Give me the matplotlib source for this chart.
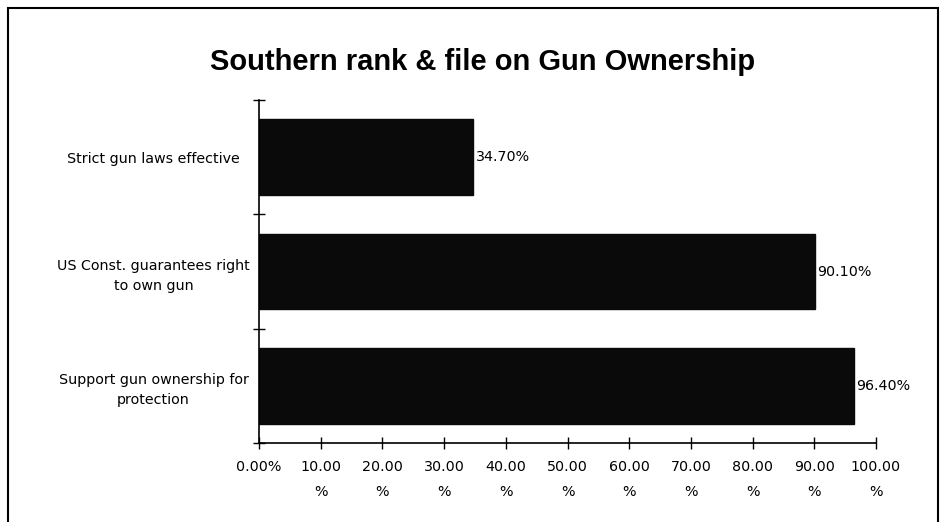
import matplotlib
matplotlib.use("Agg")
import matplotlib.pyplot as plt
from matplotlib.patches import Rectangle

# data (top to bottom)
categories = ["Strict gun laws effective",
              "US Const. guarantees right\nto own gun",
              "Support gun ownership for\nprotection"]
values = [34.70, 90.10, 96.40]
xticks = [0, 10, 20, 30, 40, 50, 60, 70, 80, 90, 100]
xticklabels = ["0.00%"] + ["%.2f\n%%" % t for t in xticks[1:]]

fig = plt.figure(figsize=(9.43, 5.22), dpi=100)
ax = fig.add_axes([259/943, 1-443/522, (876-259)/943, 343/522])

pos = list(range(len(categories)))
ax.barh(pos, values, height=0.66, color="#0a0a0a", edgecolor="#0a0a0a")
for p, v in zip(pos, values):
    ax.text(v + 0.4, p, "%.2f%%" % v, va="center", ha="left", fontsize=10.3,
            family="DejaVu Sans")

ax.set_ylim(2.5, -0.5)
ax.set_xlim(0, 100)
ax.set_yticks(pos)
ax.set_yticklabels(categories, fontsize=10.3, family="DejaVu Sans", ha="center",
                   linespacing=1.5)
ax.tick_params(axis="y", which="major", length=0, pad=76)
ax.set_yticks([-0.5, 0.5, 1.5, 2.5], minor=True)
ax.tick_params(axis="y", which="minor", direction="inout", length=8, width=1)
ax.set_xticks(xticks)
ax.set_xticklabels(xticklabels, fontsize=10.3, family="DejaVu Sans", linespacing=2.0)
ax.tick_params(axis="x", direction="inout", length=9, width=1, pad=8)

for s in ["top", "right"]:
    ax.spines[s].set_visible(False)
ax.spines["left"].set_linewidth(1.2)
ax.spines["bottom"].set_linewidth(1.2)

fig.text(483/943, 1-62/522, "Southern rank & file on Gun Ownership",
         ha="center", va="center", fontsize=21, fontweight="bold",
         family=["Liberation Sans Narrow", "Liberation Sans", "DejaVu Sans"])

# outer frame
fig.add_artist(Rectangle((8/943, -0.02), (938-8)/943, 1.02-8/522,
                         transform=fig.transFigure, fill=False,
                         edgecolor="black", linewidth=1.5))

fig.savefig("out.png", dpi=100)
